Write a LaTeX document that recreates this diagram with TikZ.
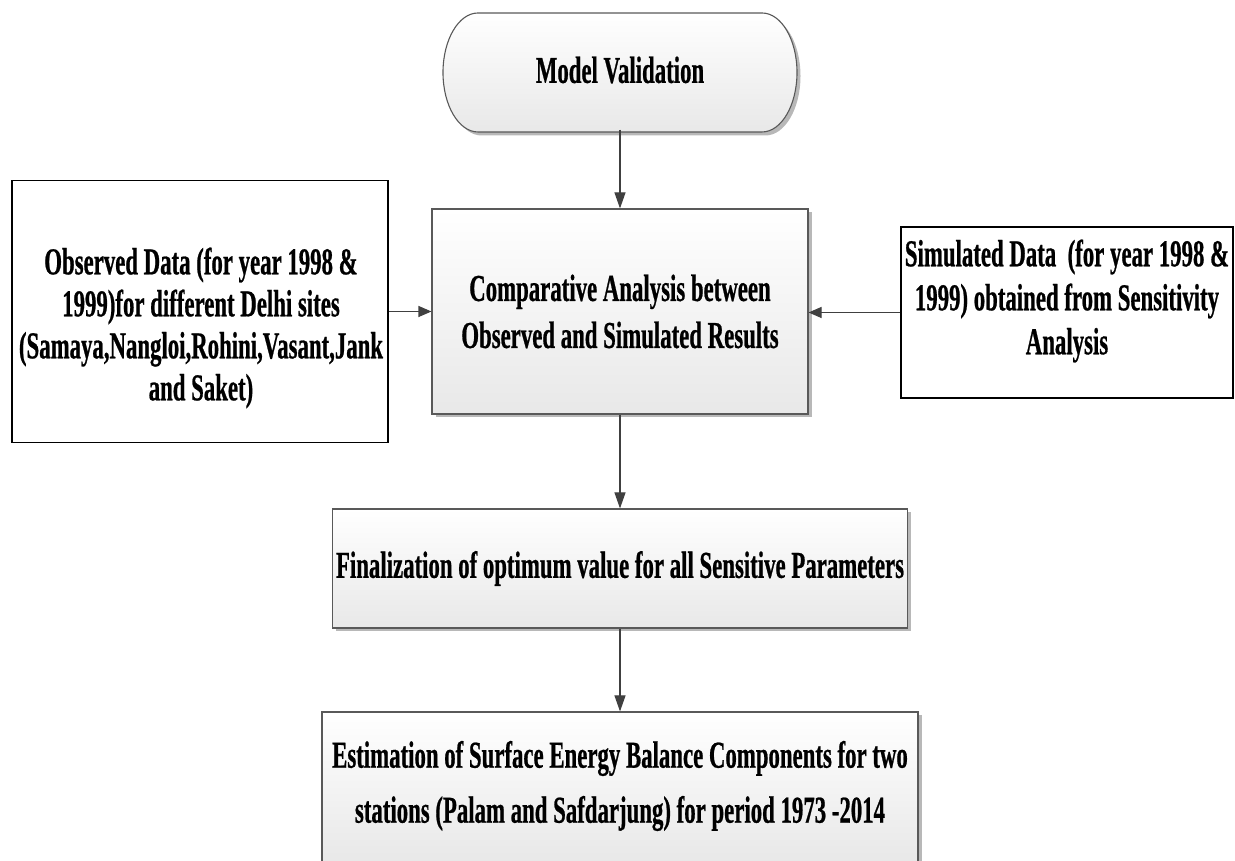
\documentclass[tikz,border=0pt]{standalone}
\usepackage{fontspec}
\setmainfont{Liberation Serif}[FakeStretch=0.60,BoldFeatures={FakeBold=0.6}]
\usetikzlibrary{arrows.meta,shadows}
\begin{document}
\begin{tikzpicture}[x=1pt,y=1pt,
  txt/.style={font=\fontsize{38}{42}\selectfont\bfseries, align=center, inner sep=0pt},
  gbox/.style={draw=black!65, line width=1.1pt, top color=white, bottom color=black!9,
    drop shadow={shadow xshift=3.5pt, shadow yshift=-3.5pt, fill=black!28, opacity=1}},
  wbox/.style={draw=black, line width=1.2pt, fill=white},
  varr/.style={draw=black!75, line width=1.1pt, -{Triangle[length=16pt,width=11pt]}},
  harr/.style={draw=black!75, line width=1.1pt, -{Triangle[length=13pt,width=11pt]}}
]
\useasboundingbox (0,0) rectangle (1235,861);
% terminator shape
\fill[black!28] (481.5,844.5) -- (765.5,844.5) arc[start angle=90,end angle=-90,x radius=35,y radius=59.5]
  -- (481.5,725.5) arc[start angle=270,end angle=90,x radius=35,y radius=59.5] -- cycle;
\shadedraw[top color=white, bottom color=black!9, draw=black!65, line width=1.1pt]
  (478,848) -- (762,848) arc[start angle=90,end angle=-90,x radius=35,y radius=59.5]
  -- (478,729) arc[start angle=270,end angle=90,x radius=35,y radius=59.5] -- cycle;
\node[txt, minimum width=354pt, minimum height=119pt] (term) at (620,791) {Model Validation};

% boxes
\node[gbox, minimum width=376pt, minimum height=205pt] (comp) at (620,549.5) {};
\node[txt, font=\fontsize{38}{47}\selectfont\bfseries] (compt) at (620,549.5)
  {Comparative Analysis between\\Observed and Simulated Results};

\node[wbox, minimum width=376pt, minimum height=262pt] (obs) at (200,549.5) {};
\node[txt] (obst) at (201,533)
  {Observed Data (for year 1998 \&\\1999)for different Delhi sites\\(Samaya,Nangloi,Rohini,Vasant,Jank\\and Saket)};

\node[wbox, minimum width=332pt, minimum height=171pt] (sim) at (1067,548.5) {};
\node[txt, font=\fontsize{38}{44}\selectfont\bfseries] (simt) at (1067,560)
  {Simulated Data~ (for year 1998 \&\\1999) obtained from Sensitivity\\Analysis};

\node[gbox, minimum width=575pt, minimum height=119pt] (fin) at (620,292.5) {};
\node[txt] (fint) at (620,292.5) {Finalization of optimum value for all Sensitive Parameters};

\node[gbox, minimum width=596pt, minimum height=150pt] (est) at (620,74) {};
\node[txt, font=\fontsize{38}{55}\selectfont\bfseries] (estt) at (620,75)
  {Estimation of Surface Energy Balance Components for two\\stations (Palam and Safdarjung) for period 1973 -2014};

% connectors
\draw[varr] (term.south) -- (comp.north);
\draw[harr] (obs.east) -- (comp.west);
\draw[harr] (sim.west) -- (sim.west -| comp.east);
\draw[varr] (comp.south) -- (comp.south |- fin.north);
\draw[varr] (fin.south) -- (fin.south |- est.north);
\end{tikzpicture}
\end{document}
